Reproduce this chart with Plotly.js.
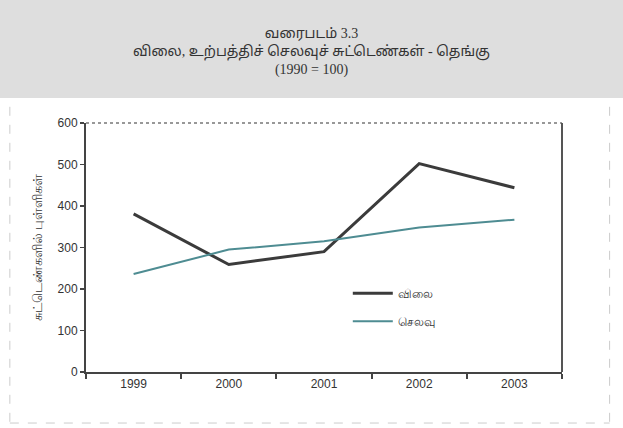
<!DOCTYPE html>
<html>
<head>
<meta charset="utf-8">
<script src="https://cdn.plot.ly/plotly-3.0.1.min.js"></script>
<style>html,body{margin:0;padding:0;background:#fff}#chart{width:623px;height:428px}</style>
</head>
<body>
<div id="chart"></div>
<script>
var years = ["1999", "2000", "2001", "2002", "2003"];
var priceIndex = [381, 259, 290, 502, 444];
var costIndex = [236, 295, 315, 348, 367];
var seriesNames = ["விலை", "செலவு"];
var titleLines = ["வரைபடம் 3.3", "விலை, உற்பத்திச் செலவுச் சுட்டெண்கள் - தெங்கு", "(1990 = 100)"];
var yTitle = "சுட்டெண்களில் புள்ளிகள்";
var yTicks = [0, 100, 200, 300, 400, 500, 600];

var traces = [
  {x: years, y: priceIndex, name: seriesNames[0], legendgroup: "a", type: "scatter", mode: "lines",
   line: {color: "#3b3b3b", width: 3}},
  {x: years, y: costIndex, name: seriesNames[1], legendgroup: "b", type: "scatter", mode: "lines",
   line: {color: "#4e8c92", width: 2}}
];

var layout = {
  width: 623, height: 428,
  margin: {l: 86, r: 61, t: 123, b: 56},
  paper_bgcolor: "#ffffff",
  plot_bgcolor: "#ffffff",
  showlegend: true,
  title: {
    text: titleLines.join("<br>"),
    x: 0.5, xanchor: "center", y: 0.912, yanchor: "top",
    font: {family: "Liberation Serif, Noto Sans Tamil, serif", size: 14, color: "#333"}
  },
  font: {family: "Liberation Sans, Arial, sans-serif", color: "#333"},
  xaxis: {
    type: "category", range: [-0.5, 4.5],
    showline: true, linecolor: "#444", linewidth: 2, mirror: false,
    ticks: "outside", tickson: "boundaries", ticklen: 5, tickwidth: 2, tickcolor: "#444",
    showgrid: false, zeroline: false,
    tickfont: {size: 12, color: "#333"}, fixedrange: true
  },
  yaxis: {
    range: [0, 600], tickvals: yTicks,
    showline: true, linecolor: "#444", linewidth: 2,
    ticks: "outside", ticklen: 4, tickwidth: 1.5, tickcolor: "#444",
    showgrid: false, zeroline: false,
    tickfont: {size: 12, color: "#333"},
    title: {text: yTitle, standoff: 12, font: {size: 13, color: "#333"}}
  },
  legend: {
    x: 0.55, y: 0.374, xanchor: "left", yanchor: "top",
    bgcolor: "rgba(0,0,0,0)", font: {size: 12, color: "#333"},
    tracegroupgap: 9, itemwidth: 40
  },
  shapes: [
    {type: "rect", xref: "paper", yref: "paper", x0: -0.2, x1: 1.2, y0: 1.1, y1: 1.6,
     fillcolor: "#dedede", line: {width: 0}, layer: "below"},
    {type: "line", xref: "paper", yref: "paper", x0: 0, x1: 1, y0: 1, y1: 1,
     line: {color: "#777", width: 1.5, dash: "dot"}},
    {type: "line", xref: "paper", yref: "paper", x0: 1, x1: 1, y0: 0, y1: 1,
     line: {color: "#555", width: 2}},
    {type: "line", xref: "paper", yref: "paper", x0: -0.16, x1: -0.16, y0: -0.2, y1: 1.1,
     line: {color: "#ccc", width: 1, dash: "dash"}},
    {type: "line", xref: "paper", yref: "paper", x0: 1.1, x1: 1.1, y0: -0.2, y1: 1.1,
     line: {color: "#ccc", width: 1, dash: "dash"}},
    {type: "line", xref: "paper", yref: "paper", x0: -0.16, x1: 1.1, y0: -0.205, y1: -0.205,
     line: {color: "#ccc", width: 1, dash: "dash"}}
  ]
};

Plotly.newPlot("chart", traces, layout, {displayModeBar: false, staticPlot: true});
</script>
</body>
</html>
